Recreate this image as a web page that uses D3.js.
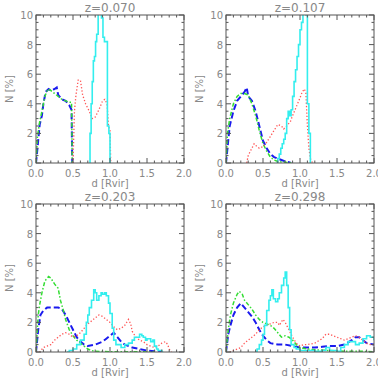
<!DOCTYPE html>
<html>
<head>
<meta charset="utf-8">
<script src="https://cdn.jsdelivr.net/npm/d3@7"></script>
<style>
  body { margin: 0; background: #fff; }
  svg { font-family: "DejaVu Sans", sans-serif; }
  .tick-label { fill: #888; font-size: 10px; }
  .title { fill: #888; font-size: 12px; }
</style>
</head>
<body>
<svg width="378" height="378"></svg>
<script>
// redshift labels
var titles = ["z=0.070", "z=0.107", "z=0.203", "z=0.298"];
var xTicks = [0, 0.5, 1.0, 1.5, 2.0];
var yTicks = [0, 2, 4, 6, 8, 10];

// z=0.070
var cyan070 = [[0.72,0],[0.73,2],[0.745,4],[0.76,5.5],[0.775,6.9],[0.79,7.2],[0.805,8.2],[0.82,8.7],[0.84,10.5],[0.87,10.5],[0.885,9.8],[0.905,8.5],[0.925,8.2],[0.965,2.5],[0.985,2.0],[1.0,0],[1.01,0]];
var red070 = [[0.5,0],[0.52,3.5],[0.54,4.6],[0.57,5.6],[0.6,5.6],[0.63,4.6],[0.67,4.0],[0.72,3.5],[0.76,3.0],[0.8,3.1],[0.85,3.6],[0.9,4.2],[0.93,4.3],[0.96,4.0],[0.98,2.5],[1.0,2.2],[1.01,0]];
var blue070 = [[0,0],[0.02,1.0],[0.05,2.6],[0.08,3.2],[0.1,4.0],[0.13,4.8],[0.17,5.0],[0.2,4.9],[0.25,5.0],[0.28,5.1],[0.3,4.6],[0.35,4.3],[0.4,4.2],[0.45,3.9],[0.48,3.6],[0.49,0]];
var green070 = [[0,0],[0.02,1.8],[0.05,2.8],[0.08,3.5],[0.12,4.5],[0.16,5.0],[0.2,4.9],[0.25,4.7],[0.3,4.5],[0.35,4.3],[0.4,4.2],[0.45,4.1],[0.48,4.1],[0.49,0]];

// z=0.107
var cyan107 = [[0.68,0],[0.7,0.3],[0.72,0.6],[0.74,1.0],[0.76,1.3],[0.78,1.6],[0.8,2.0],[0.82,3.0],[0.84,3.5],[0.86,3.2],[0.88,3.6],[0.9,4.5],[0.92,5.5],[0.94,6.3],[0.96,7.2],[0.98,8.0],[1.0,9.0],[1.02,9.5],[1.04,10.5],[1.08,10.0],[1.1,4.0],[1.12,2.0],[1.14,0],[1.15,0]];
var red107 = [[0.28,0],[0.3,0.5],[0.35,1.0],[0.38,1.3],[0.42,1.1],[0.45,1.0],[0.5,1.1],[0.55,1.4],[0.6,1.8],[0.65,2.2],[0.7,2.6],[0.75,2.5],[0.78,2.3],[0.82,2.5],[0.87,2.8],[0.9,3.2],[0.95,3.8],[1.0,4.4],[1.03,4.8],[1.06,5.0],[1.08,4.7],[1.1,2.5],[1.12,1.0],[1.14,0.3],[1.17,0]];
var blue107 = [[0,0],[0.02,1.0],[0.05,2.5],[0.1,3.5],[0.15,4.2],[0.2,4.5],[0.25,4.8],[0.28,5.1],[0.3,4.5],[0.35,4.2],[0.4,3.5],[0.45,2.5],[0.5,1.5],[0.55,1.0],[0.6,0.6],[0.65,0.4],[0.7,0.3],[0.75,0.2],[0.8,0.1],[0.85,0.05],[0.88,0]];
var green107 = [[0,0],[0.02,2.0],[0.05,3.0],[0.1,4.0],[0.15,4.5],[0.2,4.7],[0.25,4.7],[0.3,4.6],[0.35,4.0],[0.4,3.2],[0.45,2.2],[0.5,1.3],[0.55,0.8],[0.6,0.4],[0.65,0.2],[0.7,0.1],[0.8,0.05],[0.9,0]];

// z=0.203
var cyan203 = [[0.42,0],[0.45,0.1],[0.5,0.2],[0.55,0.5],[0.6,0.8],[0.65,1.2],[0.68,2.0],[0.7,2.5],[0.72,3.0],[0.75,3.5],[0.78,4.2],[0.8,4.0],[0.82,3.5],[0.85,3.8],[0.88,4.0],[0.9,3.9],[0.93,4.0],[0.95,3.8],[0.98,3.3],[1.0,2.6],[1.03,1.6],[1.05,0.8],[1.08,0.5],[1.15,0.3],[1.2,0.5],[1.25,0.6],[1.3,0.8],[1.33,1.0],[1.4,1.2],[1.43,1.1],[1.45,1.0],[1.48,0.8],[1.5,0.9],[1.55,0.7],[1.58,0.8],[1.6,0.4],[1.63,0.2],[1.65,0.1],[1.7,0],[1.72,0]];
var red203 = [[0,0],[0.05,0],[0.1,0.3],[0.15,0.4],[0.2,0.5],[0.25,0.8],[0.3,1.0],[0.35,1.2],[0.4,1.3],[0.45,1.2],[0.5,1.0],[0.55,1.1],[0.6,1.3],[0.65,1.6],[0.7,1.9],[0.75,2.1],[0.8,2.3],[0.85,2.5],[0.9,2.4],[0.95,2.2],[1.0,2.0],[1.05,1.7],[1.1,1.5],[1.15,1.6],[1.2,1.8],[1.25,2.2],[1.28,1.9],[1.3,1.4],[1.35,1.0],[1.4,0.8],[1.45,0.7],[1.5,0.5],[1.55,0.4],[1.6,0.3],[1.65,0.4],[1.7,0.6],[1.75,0.7],[1.78,0.5],[1.8,0.2],[1.83,0]];
var blue203 = [[0,0],[0.03,1.5],[0.06,2.5],[0.1,2.8],[0.15,3.0],[0.2,3.0],[0.3,3.0],[0.35,2.9],[0.4,2.5],[0.45,2.0],[0.5,1.5],[0.55,1.0],[0.6,0.7],[0.65,0.5],[0.7,0.4],[0.8,0.5],[0.9,0.7],[0.95,0.9],[1.0,1.1],[1.05,1.3],[1.1,1.0],[1.15,0.7],[1.2,0.5],[1.3,0.3],[1.4,0.2],[1.5,0.1],[1.6,0.05],[1.7,0]];
var green203 = [[0,0],[0.03,2.5],[0.05,3.2],[0.08,4.0],[0.12,4.8],[0.17,5.1],[0.2,5.0],[0.25,4.6],[0.3,4.3],[0.33,3.5],[0.37,2.8],[0.4,2.2],[0.45,1.5],[0.5,1.1],[0.55,0.8],[0.6,0.6],[0.65,0.4],[0.7,0.2],[0.75,0.1],[0.8,0.05],[1.0,0.02],[1.3,0.02],[1.6,0]];

// z=0.298
var cyan298 = [[0.4,0],[0.42,0.2],[0.45,0.5],[0.48,0.8],[0.5,1.2],[0.52,1.8],[0.55,2.8],[0.58,3.5],[0.6,3.8],[0.62,4.2],[0.64,3.6],[0.67,3.4],[0.7,3.6],[0.72,4.0],[0.75,4.5],[0.78,5.0],[0.8,5.4],[0.82,4.5],[0.84,3.0],[0.86,1.5],[0.88,0.5],[0.92,0.3],[0.95,0.2],[1.0,0.1],[1.2,0.05],[1.3,0.1],[1.35,0.3],[1.4,0.1],[1.5,0.05],[1.55,0.3],[1.6,0.5],[1.65,0.7],[1.7,0.7],[1.75,0.5],[1.8,0.6],[1.85,0.9],[1.9,1.1],[1.95,1.0],[2.0,0.8]];
var red298 = [[0.05,0],[0.1,0.1],[0.15,0.2],[0.2,0.3],[0.25,0.6],[0.3,0.8],[0.35,1.0],[0.4,1.2],[0.45,1.5],[0.5,1.7],[0.55,1.8],[0.6,1.9],[0.65,2.0],[0.7,2.0],[0.72,1.8],[0.77,2.2],[0.8,2.0],[0.85,1.5],[0.9,1.0],[0.95,0.6],[1.0,0.4],[1.05,0.5],[1.1,0.5],[1.2,0.6],[1.3,0.9],[1.35,1.2],[1.4,1.2],[1.45,1.1],[1.5,1.0],[1.55,0.9],[1.6,0.8],[1.65,0.9],[1.7,1.0],[1.75,1.1],[1.8,1.0],[1.85,0.8],[1.9,0.6],[1.95,0.5],[2.0,0.5]];
var blue298 = [[0,0],[0.03,1.2],[0.06,1.8],[0.1,2.5],[0.15,3.0],[0.2,3.3],[0.25,3.0],[0.3,2.7],[0.35,2.4],[0.4,2.0],[0.45,1.5],[0.5,1.1],[0.55,0.8],[0.6,0.6],[0.7,0.5],[0.8,0.5],[0.9,0.4],[1.0,0.3],[1.2,0.3],[1.3,0.35],[1.4,0.4],[1.5,0.4],[1.6,0.5],[1.7,0.8],[1.75,1.0],[1.8,1.0],[1.85,0.8],[1.9,0.6],[2.0,0.5]];
var green298 = [[0,0],[0.03,1.5],[0.06,2.5],[0.1,3.3],[0.15,3.9],[0.18,4.1],[0.22,3.9],[0.25,3.5],[0.3,3.2],[0.35,2.9],[0.4,2.5],[0.45,2.2],[0.5,2.0],[0.55,1.9],[0.6,1.8],[0.65,1.6],[0.7,1.3],[0.75,1.0],[0.8,1.1],[0.85,1.0],[0.9,0.8],[0.95,0.5],[1.0,0.3],[1.1,0.2],[1.2,0.15],[1.4,0.1],[1.6,0.05],[1.8,0.05],[2.0,0.02]];

var cyanSets = [cyan070, cyan107, cyan203, cyan298],
    redSets = [red070, red107, red203, red298],
    blueSets = [blue070, blue107, blue203, blue298],
    greenSets = [green070, green107, green203, green298];

var svg = d3.select("svg");
var pw = 148, ph = 148;
var lefts = [36, 226], tops = [15, 204];
var axisColor = "#555";

var x = d3.scaleLinear().domain([0, 2]).range([0, pw]),
    y = d3.scaleLinear().domain([0, 10]).range([ph, 0]);

var line = d3.line()
    .x(function(d) { return x(d[0]); })
    .y(function(d) { return y(d[1]); });

var stepLine = d3.line()
    .curve(d3.curveStepAfter)
    .x(function(d) { return x(d[0]); })
    .y(function(d) { return y(d[1]); });

var defs = svg.append("defs");
defs.append("clipPath").attr("id", "plotclip")
  .append("rect").attr("x", 0).attr("y", 0).attr("width", pw).attr("height", ph);

for (var p = 0; p < 4; p++) {
  var g = svg.append("g")
      .attr("transform", "translate(" + lefts[p % 2] + "," + tops[Math.floor(p / 2)] + ")");

  var plot = g.append("g").attr("clip-path", "url(#plotclip)");

  plot.append("path").datum(blueSets[p])
      .attr("d", line)
      .attr("fill", "none").attr("stroke", "#1a1aee")
      .attr("stroke-width", 2).attr("stroke-dasharray", "6,3");

  plot.append("path").datum(greenSets[p])
      .attr("d", line)
      .attr("fill", "none").attr("stroke", "#33dd33")
      .attr("stroke-width", 1.5).attr("stroke-dasharray", "4,2,1.5,2");

  plot.append("path").datum(redSets[p])
      .attr("d", line)
      .attr("fill", "none").attr("stroke", "#ff5555")
      .attr("stroke-width", 1.3).attr("stroke-dasharray", "1.3,2");

  plot.append("path").datum(cyanSets[p])
      .attr("d", stepLine)
      .attr("fill", "none").attr("stroke", "#33eeee")
      .attr("stroke-width", 1.6);

  // frame
  g.append("rect")
      .attr("width", pw).attr("height", ph)
      .attr("fill", "none").attr("stroke", axisColor).attr("stroke-width", 1);

  // x ticks (major + minor) on bottom and top, inward
  var xMinor = d3.range(0, 2.0001, 0.1);
  xMinor.forEach(function(v) {
    var major = Math.abs(v * 2 - Math.round(v * 2)) < 1e-6;
    var len = major ? 5 : 2.5;
    g.append("line").attr("x1", x(v)).attr("x2", x(v)).attr("y1", ph).attr("y2", ph - len)
      .attr("stroke", axisColor);
    g.append("line").attr("x1", x(v)).attr("x2", x(v)).attr("y1", 0).attr("y2", len)
      .attr("stroke", axisColor);
  });
  var yMinor = d3.range(0, 10.0001, 0.5);
  yMinor.forEach(function(v) {
    var major = Math.abs(v / 2 - Math.round(v / 2)) < 1e-6;
    var len = major ? 5 : 2.5;
    g.append("line").attr("y1", y(v)).attr("y2", y(v)).attr("x1", 0).attr("x2", len)
      .attr("stroke", axisColor);
    g.append("line").attr("y1", y(v)).attr("y2", y(v)).attr("x1", pw).attr("x2", pw - len)
      .attr("stroke", axisColor);
  });

  g.selectAll(".xl").data(xTicks).enter().append("text")
      .attr("class", "tick-label")
      .attr("x", function(d) { return x(d); })
      .attr("y", ph + 14)
      .attr("text-anchor", "middle")
      .text(function(d) { return d3.format(".1f")(d); });

  g.selectAll(".yl").data(yTicks).enter().append("text")
      .attr("class", "tick-label")
      .attr("x", -3)
      .attr("y", function(d) { return y(d) + 4; })
      .attr("text-anchor", "end")
      .text(function(d) { return d; });

  g.append("text").attr("class", "title")
      .attr("x", pw / 2).attr("y", -3)
      .attr("text-anchor", "middle")
      .text(titles[p]);

  g.append("text").attr("class", "tick-label")
      .attr("x", pw / 2).attr("y", ph + 24)
      .attr("text-anchor", "middle")
      .text("d [Rvir]");

  g.append("text").attr("class", "tick-label")
      .attr("transform", "translate(-23," + (ph / 2) + ") rotate(-90)")
      .attr("text-anchor", "middle")
      .text("N [%]");
}
</script>
</body>
</html>
